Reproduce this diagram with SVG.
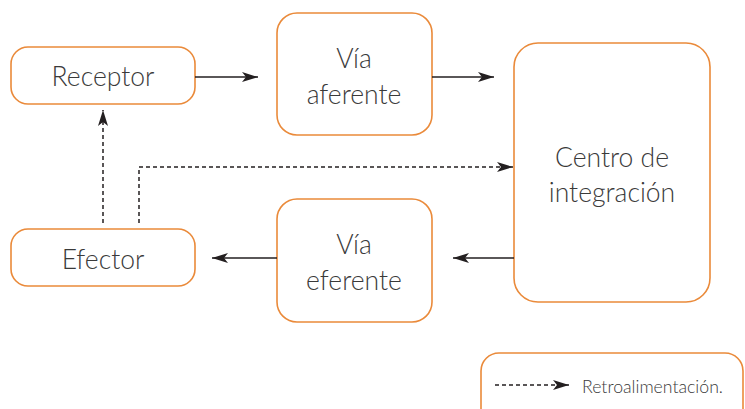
<svg xmlns="http://www.w3.org/2000/svg" width="745" height="409" viewBox="0 0 745 409">
<style>
.box{fill:#fff;stroke:#ea8a3a;stroke-width:1.6}
.t{font-family:Lato,"Liberation Sans",sans-serif;font-weight:300;font-size:26.5px;fill:#3a3a3a;text-anchor:middle}
.c{fill:none;stroke:#231f20;stroke-width:1.5}
.d{fill:none;stroke:#231f20;stroke-width:1.5;stroke-dasharray:4 3}
</style>
<defs>
<marker id="ah" viewBox="0 0 16 10" refX="16" refY="5" markerWidth="16" markerHeight="10" markerUnits="userSpaceOnUse" orient="auto">
<path d="M0,0 L16,5 L0,10 L4,5 Z" fill="#231f20"/>
</marker>
</defs>
<g id="receptor"><rect class="box" x="11" y="47" width="184" height="57" rx="17"/><text class="t" x="103" y="86">Receptor</text></g>
<g id="via-aferente"><rect class="box" x="277" y="13" width="155" height="122" rx="20"/><text class="t" x="354" y="68">Vía</text><text class="t" x="354" y="104">aferente</text></g>
<g id="centro"><rect class="box" x="514" y="43" width="196" height="259" rx="24"/><text class="t" x="612" y="167">Centro de</text><text class="t" x="612" y="202">integración</text></g>
<g id="via-eferente"><rect class="box" x="277" y="199" width="155" height="123" rx="20"/><text class="t" x="354" y="254">Vía</text><text class="t" x="354" y="290">eferente</text></g>
<g id="efector"><rect class="box" x="11" y="229" width="184" height="57" rx="17"/><text class="t" x="103" y="269">Efector</text></g>
<g id="legend"><rect class="box" x="481" y="353" width="262" height="80" rx="18"/><line class="d" x1="495" y1="385" x2="569" y2="385" marker-end="url(#ah)"/><text x="582" y="392.5" style="font-family:Lato,'Liberation Sans',sans-serif;font-weight:300;font-size:18.5px;fill:#3a3a3a" textLength="141" lengthAdjust="spacingAndGlyphs">Retroalimentación.</text></g>
<g id="connectors">
<line class="c" x1="195" y1="77" x2="258" y2="77" marker-end="url(#ah)"/>
<line class="c" x1="432" y1="77" x2="494" y2="77" marker-end="url(#ah)"/>
<line class="c" x1="514" y1="258" x2="453" y2="258" marker-end="url(#ah)"/>
<line class="c" x1="277" y1="258" x2="212" y2="258" marker-end="url(#ah)"/>
<line class="d" x1="103" y1="223" x2="103" y2="110" marker-end="url(#ah)"/>
<polyline class="d" points="139,223 139,167 513,167" marker-end="url(#ah)"/>
</g>
</svg>
